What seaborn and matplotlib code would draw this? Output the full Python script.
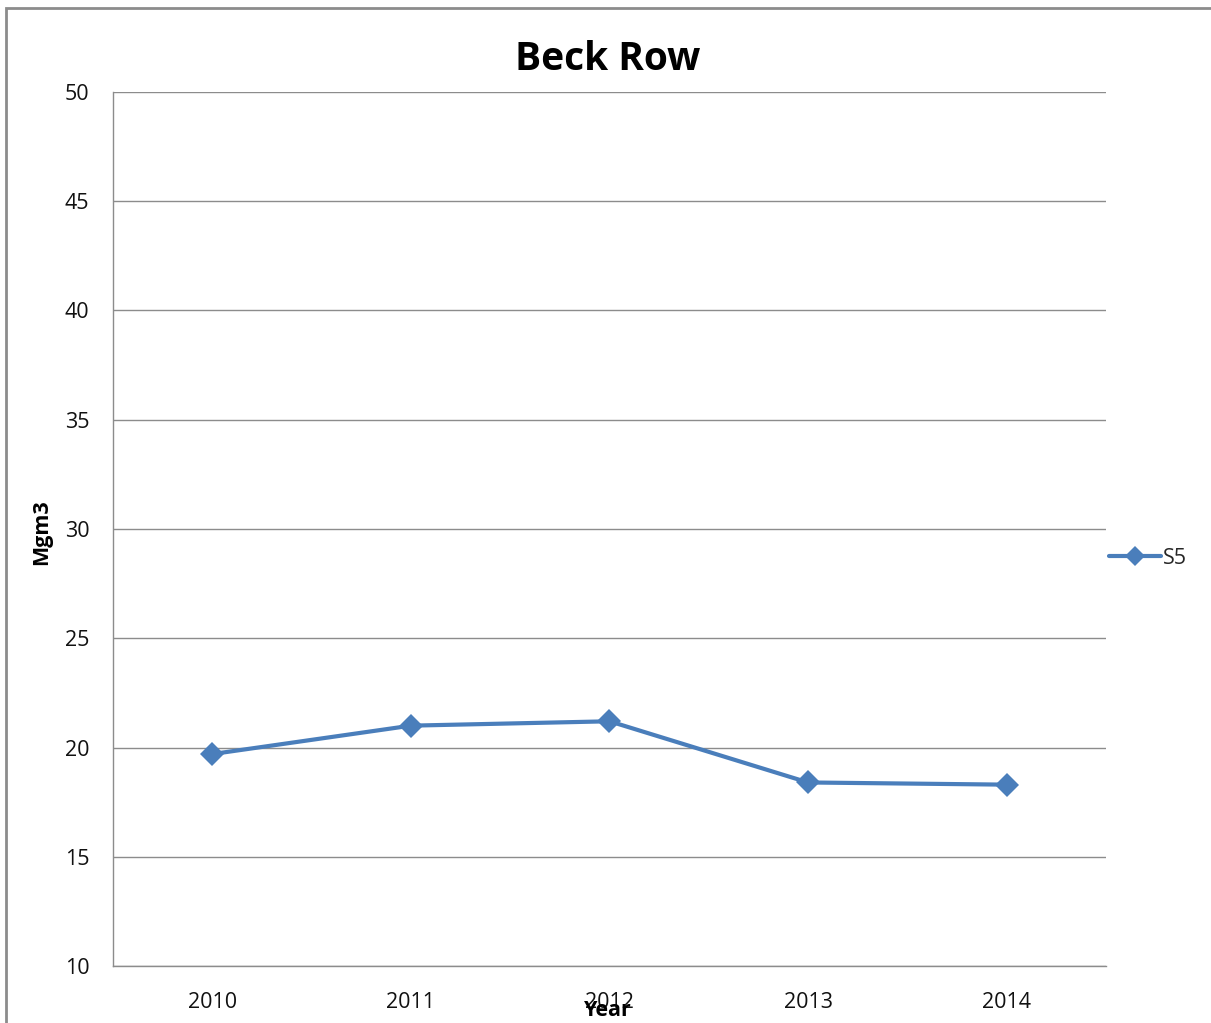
import matplotlib
matplotlib.use("Agg")
import matplotlib.pyplot as plt
import seaborn as sns
import pandas as pd
from matplotlib.patches import Rectangle
from matplotlib.lines import Line2D

years = ["2010", "2011", "2012", "2013", "2014"]
s5_values = [19.7, 21.0, 21.2, 18.4, 18.3]
y_ticks = [10, 15, 20, 25, 30, 35, 40, 45, 50]

df = pd.DataFrame({"Year": years, "Mgm3": s5_values})

sns.set_theme(style="white")
plt.rcParams["font.family"] = ["Open Sans", "DejaVu Sans"]

line_color = "#4A7EBB"
grid_color = "#8C8C8C"

fig = plt.figure(figsize=(12.11, 10.23), dpi=100)
ax = fig.add_axes([0.0933, 0.0557, 0.82, 0.8544])

sns.lineplot(data=df, x="Year", y="Mgm3", ax=ax, color=line_color,
             linewidth=3, marker="D", markersize=12, markeredgewidth=0,
             sort=False)

ax.set_xlim(-0.5, len(years) - 0.5)
ax.set_ylim(10, 50)
ax.set_yticks(y_ticks)
ax.yaxis.grid(True, color=grid_color, linewidth=1.0)
ax.set_axisbelow(True)

for side in ("top", "right"):
    ax.spines[side].set_visible(False)
for side in ("left", "bottom"):
    ax.spines[side].set_color(grid_color)
    ax.spines[side].set_linewidth(1.0)

ax.tick_params(axis="both", length=0, labelsize=15.5, colors="#111111")
ax.tick_params(axis="x", pad=19)
ax.tick_params(axis="y", pad=17)

ax.set_xlabel("")
ax.set_ylabel("")
fig.text(0.034, 0.48, "Mgm3", rotation=90, ha="center", va="center",
         fontsize=15.5, fontweight="bold", color="black")
fig.text(0.502, 0.0125, "Year", ha="center", va="center",
         fontsize=15.5, fontweight="bold", color="black")

fig.text(0.502, 0.942, "Beck Row", ha="center", va="center",
         fontsize=28, fontweight="bold", color="black")

handle = Line2D([], [], color=line_color, linewidth=3, marker="D",
                markersize=10, markeredgewidth=0)
leg = fig.legend([handle], ["S5"], loc="center left",
                 bbox_to_anchor=(0.9, 0.4545), frameon=False,
                 fontsize=15.5, handlelength=2.4, handletextpad=0.1)

fig.patches.append(Rectangle((0.005, -0.05), 1.2, 1.042,
                             transform=fig.transFigure, fill=False,
                             edgecolor="#8C8C8C", linewidth=2.0))

fig.savefig("out.png", dpi=100)
